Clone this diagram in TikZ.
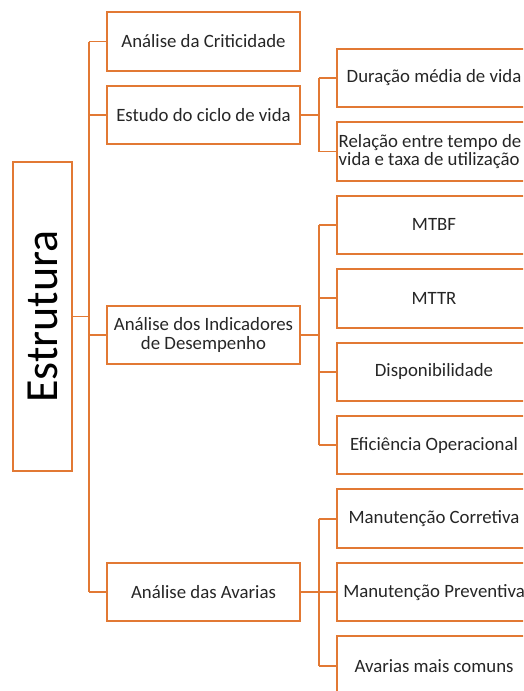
\documentclass[tikz,border=0pt]{standalone}
\usepackage{fontspec}
\setmainfont{Carlito}
\definecolor{org}{RGB}{226,121,52}
\definecolor{txt}{RGB}{38,38,38}
\begin{document}
\begin{tikzpicture}[x=1pt,y=-1pt,
  box/.style={draw=org, line width=2pt, fill=white, minimum width=193pt,
    minimum height=58.5pt, inner sep=0pt, text=txt,
    font=\fontsize{18.8}{22}\selectfont, align=center},
  rbox/.style={box, minimum width=194pt},
  conn/.style={draw=org, line width=1.8pt},
  lbl/.style={inner sep=0pt, text=txt, align=left,
    font=\fontsize{18.8}{16}\selectfont}]
\useasboundingbox (0,0) rectangle (523,691);
\clip (0,0) rectangle (523,691);
\coordinate (bus) at (89,0);
\coordinate (sb) at (319,0);
% root
\node[box, minimum width=59pt, minimum height=309pt] (estr) at (42.5,316.5)
  {\rotatebox{90}{\fontsize{46}{50}\selectfont\color{black}Estrutura}};
% level 1
\node[box] (crit) at (203.5,41.5) {Análise da Criticidade};
\node[box] (ciclo) at (203.5,115) {Estudo do ciclo de vida};
\node[box] (indic) at (203.5,335) {Análise dos Indicadores\\[-3pt]de Desempenho};
\node[box] (avar) at (203.5,592) {Análise das Avarias};
% level 2
\node[rbox] (dur) at (434,78) {Duração média de vida};
\node[rbox] (rel) at (434,151.5) {};
\node[lbl, anchor=west] (relt) at (338.5,151.5)
  {Relação entre tempo de\\vida e taxa de utilização};
\node[rbox] (mtbf) at (434,224.9) {MTBF};
\node[rbox] (mttr) at (434,298.3) {MTTR};
\node[rbox] (disp) at (434,371.8) {Disponibilidade};
\node[rbox] (efic) at (434,445.2) {Eficiência Operacional};
\node[rbox] (corr) at (434,518.7) {Manutenção Corretiva};
\node[rbox] (prev) at (434,592.1) {Manutenção Preventiva};
\node[rbox] (comu) at (434,665.6) {Avarias mais comuns};
% main bus
\draw[conn] (crit.west -| bus) -- (avar.west -| bus);
\draw[conn] (estr.east) -- (estr.east -| bus);
\foreach \n in {crit,ciclo,indic,avar}
  \draw[conn] (\n.west) -- (\n.west -| bus);
% sub buses
\draw[conn] (ciclo.east) -- (ciclo.east -| sb);
\draw[conn] (dur.west -| sb) -- (rel.west -| sb);
\foreach \n in {dur,rel} \draw[conn] (\n.west -| sb) -- (\n.west);
\draw[conn] (indic.east) -- (indic.east -| sb);
\draw[conn] (mtbf.west -| sb) -- (efic.west -| sb);
\foreach \n in {mtbf,mttr,disp,efic} \draw[conn] (\n.west -| sb) -- (\n.west);
\draw[conn] (avar.east) -- (avar.east -| sb);
\draw[conn] (corr.west -| sb) -- (comu.west -| sb);
\foreach \n in {corr,prev,comu} \draw[conn] (\n.west -| sb) -- (\n.west);
\end{tikzpicture}
\end{document}
